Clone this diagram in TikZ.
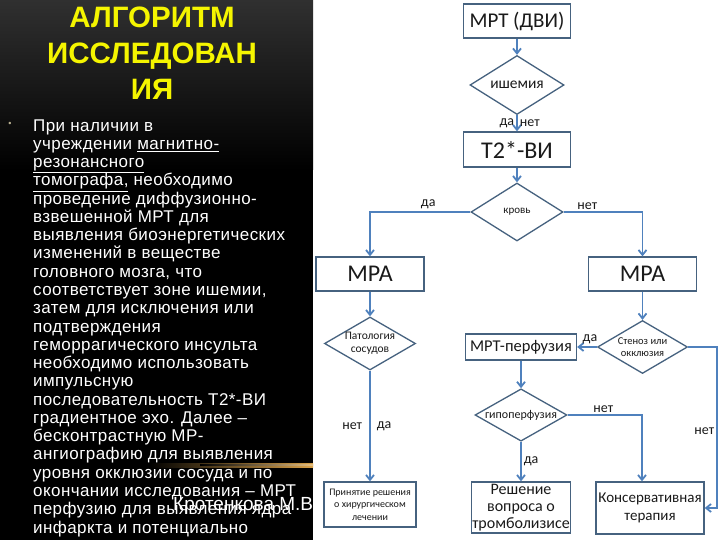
\documentclass[tikz,border=0pt]{standalone}
\usepackage{fontspec}
\setmainfont{Carlito}
\newfontfamily\slidefont{Liberation Sans}
\newfontfamily\slidebody[LetterSpace=2.5]{Liberation Sans}
\usepackage{xcolor}
\usepackage{tikz}
\usetikzlibrary{arrows.meta,positioning,shapes.geometric}
\definecolor{ink}{HTML}{1A1A1A}
\definecolor{boxline}{HTML}{46627F}
\definecolor{arrowblue}{HTML}{4F81BD}
\definecolor{paneltop}{HTML}{303030}
\definecolor{titleyellow}{HTML}{F5F500}
\definecolor{streak}{HTML}{D9A24A}
\definecolor{bulletgray}{HTML}{B8B090}

\begin{document}
\begin{tikzpicture}[
  x=1pt,y=-1pt,
  box/.style={draw=boxline,line width=1.3pt,fill=white,inner sep=0pt,align=center,text=ink},
  choice/.style={diamond,draw=boxline,line width=1.3pt,fill=white,inner sep=0pt,aspect=1.7,align=center,text=ink},
  arr/.style={-{Straight Barb[length=5pt,width=8pt]},line width=1.8pt,draw=arrowblue},
  lbl/.style={font=\fontsize{14}{16}\selectfont,text=ink,inner sep=2pt},
  slidetext/.style={font=\slidebody\fontsize{17}{18.27}\selectfont,text=white,align=left,inner sep=0pt}
]
\useasboundingbox (0,0) rectangle (720,540);
\fill[white] (313,0) rectangle (720,540);
\fill[top color=paneltop,bottom color=black] (0,0) rectangle (313,170);
\fill[black] (0,170) rectangle (313,540);
\fill[left color=black,right color=streak] (150,463) rectangle (313,467);
\fill[left color=black,right color=streak!70!white] (200,464.2) rectangle (313,465.8);

\node[font=\slidefont\bfseries\fontsize{29.5}{36}\selectfont,text=titleyellow,align=center,anchor=base,inner sep=0pt] (title) at (152,100) {АЛГОРИТМ\\ИССЛЕДОВАН\\ИЯ};
\node[font=\slidefont\fontsize{9}{9}\selectfont,text=bulletgray,inner sep=0pt] (bullet) at (10,124) {•};
\node[slidetext,anchor=base west] (body) at (33,533) {При наличии в\\
учреждении \underline{магнитно-}\\
\underline{резонансного}\\
\underline{томографа,} необходимо\\
проведение диффузионно-\\
взвешенной МРТ для\\
выявления биоэнергетических\\
изменений в веществе\\
головного мозга, что\\
соответствует зоне ишемии,\\
затем для исключения или\\
подтверждения\\
геморрагического инсульта\\
необходимо использовать\\
импульсную\\
последовательность Т2*-ВИ\\
градиентное эхо. Далее –\\
бесконтрастную МР-\\
ангиографию для выявления\\
уровня окклюзии сосуда и по\\
окончании исследования – МРТ\\
перфузию для выявления ядра\\
инфаркта и потенциально};
\node[font=\slidefont\fontsize{19}{22}\selectfont,text=white,anchor=base west,inner sep=0pt] (author) at (173,510) {Кротенкова М.В.};

\node[box,minimum width=107pt,minimum height=34pt,font=\fontsize{21}{24}\selectfont] (mrt) at (517,21) {МРТ (ДВИ)};
\node[choice,minimum width=94pt,minimum height=59pt,font=\fontsize{15.5}{17}\selectfont] (isch) at (517,85) {ишемия};
\node[box,minimum width=107pt,minimum height=35pt,font=\fontsize{24}{28}\selectfont] (t2) at (517,149.5) {Т2*-ВИ};
\node[choice,minimum width=92pt,minimum height=58pt,font=\fontsize{11}{13}\selectfont] (krov) at (517,212) {кровь};
\node[box,minimum width=108pt,minimum height=34pt,font=\fontsize{24}{28}\selectfont] (mraL) at (370,274) {МРА};
\node[box,minimum width=108pt,minimum height=34pt,font=\fontsize{24}{28}\selectfont] (mraR) at (642.5,274) {МРА};
\node[choice,minimum width=91pt,minimum height=53pt,font=\fontsize{11.5}{12.5}\selectfont] (pat) at (370,343.5) {Патология\\сосудов};
\node[choice,minimum width=90pt,minimum height=53pt,font=\fontsize{10.5}{12.5}\selectfont] (sten) at (642.5,347) {Стеноз или\\окклюзия};
\node[box,minimum width=111pt,minimum height=26pt,font=\fontsize{16.5}{20}\selectfont] (perf) at (521,347) {МРТ-перфузия};
\node[choice,minimum width=92pt,minimum height=52pt,font=\fontsize{12}{14}\selectfont] (hypo) at (521,415) {гипоперфузия};
\node[box,minimum width=92pt,minimum height=45pt,font=\fontsize{10}{12.5}\selectfont] (prin) at (370,504.5) {Принятие решения\\о хирургическом\\лечении};
\node[box,minimum width=99pt,minimum height=51pt,font=\fontsize{16}{17}\selectfont] (resh) at (521,507.5) {Решение\\вопроса о\\тромболизисе};
\node[box,minimum width=108pt,minimum height=52pt,font=\fontsize{15}{18}\selectfont] (kons) at (650,508) {Консервативная\\терапия};

\draw[arr] (mrt) -- (isch);
\draw[arr] (isch) -- node[lbl,left]{да} node[lbl,right]{нет} (t2);
\draw[arr] (t2) -- (krov);
\draw[arr] (krov.west) -| node[lbl,above,pos=0.21]{да} (mraL.north);
\draw[arr] (krov.east) -| node[lbl,above,pos=0.15]{нет} (mraR.north);
\draw[arr] (mraL) -- (pat);
\draw[arr] (pat) -- node[lbl,left=5pt]{нет} node[lbl,right=4pt]{да} (prin);
\draw[arr] (mraR) -- (sten);
\draw[arr] (sten) -- node[lbl,above,pos=0.35]{да} (perf);
\draw[arr] (sten.east) -- ++(29,0) |- node[lbl,left,pos=0.26]{нет} (kons.east);
\draw[arr] (perf) -- (hypo);
\draw[arr] (hypo.east) -| node[lbl,above,pos=0.24]{нет} ([xshift=-8pt]kons.north);
\draw[arr] (hypo) -- node[lbl,right,pos=0.5]{да} (resh);
\end{tikzpicture}
\end{document}
